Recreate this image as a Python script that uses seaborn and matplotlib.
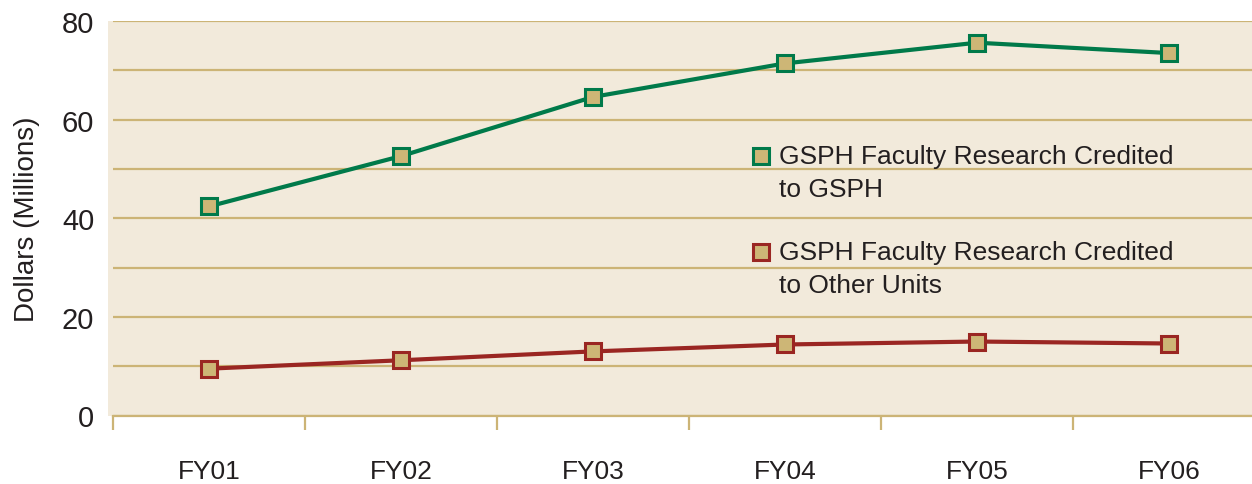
import pandas as pd
import matplotlib.pyplot as plt
import seaborn as sns
from matplotlib.lines import Line2D
from matplotlib.patches import Rectangle

years = ["FY01", "FY02", "FY03", "FY04", "FY05", "FY06"]
gsph_credit = [42.4, 52.6, 64.6, 71.4, 75.6, 73.5]
other_credit = [9.5, 11.2, 13.0, 14.4, 15.0, 14.6]
series_labels = [
    "GSPH Faculty Research Credited\nto GSPH",
    "GSPH Faculty Research Credited\nto Other Units",
]

BG = "#F2EADB"
TAN = "#CCB476"
FILL = "#CDB676"
GREEN = "#007A4A"
RED = "#9A2622"
TEXT = "#231F20"


def main():
    sns.set_style("white")
    plt.rcParams["font.family"] = ["Liberation Sans", "DejaVu Sans"]

    df = pd.DataFrame({
        "year": years * 2,
        "value": gsph_credit + other_credit,
        "series": [series_labels[0]] * 6 + [series_labels[1]] * 6,
    })

    fig = plt.figure(figsize=(12.52, 4.85), dpi=100)
    # panel background starts a little left of the axis
    fig.patches.append(Rectangle((108 / 1252, 68.5 / 485), 1.0, 395 / 485,
                                 transform=fig.transFigure, facecolor=BG,
                                 edgecolor="none", zorder=-1))
    ax = fig.add_axes([113 / 1252, 68.5 / 485, 1152 / 1252, 394.5 / 485])
    ax.set_facecolor(BG)

    for label, color in zip(series_labels, [GREEN, RED]):
        sns.lineplot(data=df[df["series"] == label], x="year", y="value",
                     ax=ax, color=color, linewidth=3, marker="s",
                     markersize=11.5, markerfacecolor=FILL,
                     markeredgecolor=color, markeredgewidth=2.2,
                     legend=False, zorder=3)

    ax.set_xlim(-0.5, 5.5)
    ax.set_ylim(0, 80)
    ax.set_yticks([0, 20, 40, 60, 80])
    ax.set_yticks([10, 30, 50, 70], minor=True)
    ax.yaxis.grid(True, which="both", color=TAN, linewidth=1.6)
    ax.set_axisbelow(True)
    ax.tick_params(axis="y", which="both", length=0, pad=13.5,
                   labelsize=21, labelcolor=TEXT)

    # boundary ticks between years, labels centred in each band
    ax.set_xticks([i - 0.5 for i in range(7)])
    ax.set_xticklabels([])
    ax.set_xticks(range(6), minor=True)
    ax.set_xticklabels(years, minor=True)
    ax.tick_params(axis="x", which="major", bottom=True, length=10,
                   width=1.6, color=TAN, direction="out")
    ax.tick_params(axis="x", which="minor", bottom=True, length=0, pad=31,
                   labelsize=19, labelcolor=TEXT)

    for s in ["top", "right", "left"]:
        ax.spines[s].set_visible(False)
    ax.spines["bottom"].set_color(TAN)
    ax.spines["bottom"].set_linewidth(1.6)

    ax.set_xlabel("")
    ax.set_ylabel("Dollars (Millions)", fontsize=20, color=TEXT,
                  labelpad=16)

    handles = [Line2D([], [], linestyle="none", marker="s", markersize=11.5,
                      markerfacecolor=FILL, markeredgecolor=c,
                      markeredgewidth=2.2) for c in [GREEN, RED]]
    leg = ax.legend(handles, series_labels, loc="upper left",
                    bbox_to_anchor=(737 / 1252, 1 - 132 / 485),
                    bbox_transform=fig.transFigure, frameon=False,
                    fontsize=19, handlelength=0.8, handletextpad=0.3,
                    labelspacing=1.5, borderpad=0)
    for t in leg.get_texts():
        t.set_color(TEXT)
        t.set_linespacing(1.45)
    # put the marker beside the first line of each label
    for h in leg.legend_handles:
        h.set_ydata([y + 12 for y in h.get_ydata()])

    fig.savefig("out.png", dpi=100)
    plt.close(fig)


if __name__ == "__main__":
    main()
